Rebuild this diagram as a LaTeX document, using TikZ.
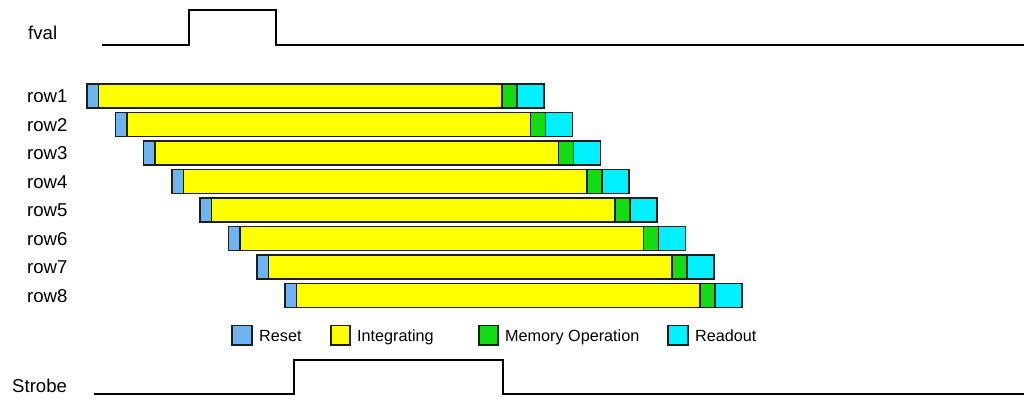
\documentclass[tikz,border=0pt]{standalone}
\usepackage{fontspec}
\setmainfont{Liberation Sans}
\definecolor{cReset}{RGB}{110,180,240}
\definecolor{cInteg}{RGB}{255,255,0}
\definecolor{cMem}{RGB}{20,220,20}
\definecolor{cRead}{RGB}{0,240,255}
\definecolor{cEdge}{RGB}{30,30,30}
\tikzset{
  sig/.style={line width=1.6pt, black},
  seg/.style={draw=cEdge, line width=1.5pt},
  lbl/.style={anchor=base west, inner sep=0pt, font=\fontsize{18.6}{20}\selectfont},
  leg/.style={anchor=base west, inner sep=0pt, font=\fontsize{16.2}{18}\selectfont},
  legbox/.style={draw=cEdge, line width=1.5pt}
}
\begin{document}
\begin{tikzpicture}[x=1pt,y=-1pt]
\useasboundingbox (0,0) rectangle (1024,407);
% fval
\node[lbl] (fvallbl) at (28,39.5) {fval};
\coordinate (f0) at (102,45);
\coordinate (f1) at (1024,45);
\draw[sig] (f0) -- (189,45) -- (189,10) -- (276,10) -- (276,45) -- (f1);
% rows
\foreach \i in {0,...,7}{
  \pgfmathsetmacro{\dx}{28.3*\i}
  \pgfmathsetmacro{\ty}{84+28.5*\i}
  \pgfmathsetmacro{\by}{\ty+24}
  \pgfmathtruncatemacro{\n}{\i+1}
  \node[lbl] (row\n) at (27,\ty+18.7) {row\n};
  \draw[seg, fill=cReset] (87+\dx,\ty) rectangle (98.5+\dx,\by);
  \draw[seg, fill=cInteg] (98.5+\dx,\ty) rectangle (502+\dx,\by);
  \draw[seg, fill=cMem] (502+\dx,\ty) rectangle (517+\dx,\by);
  \draw[seg, fill=cRead] (517+\dx,\ty) rectangle (544+\dx,\by);
}
% legend
\draw[legbox, fill=cReset] (232,325.5) rectangle (252,345);
\node[leg] (lreset) at (259,341.7) {Reset};
\draw[legbox, fill=cInteg] (331,325.5) rectangle (350,345);
\node[leg] (linteg) at (357,341.7) {Integrating};
\draw[legbox, fill=cMem] (479,325.5) rectangle (498,345);
\node[leg] (lmem) at (505,341.7) {Memory Operation};
\draw[legbox, fill=cRead] (668,325.5) rectangle (688,345);
\node[leg] (lread) at (695,341.7) {Readout};
% strobe
\node[lbl] (strobelbl) at (12,392) {Strobe};
\coordinate (s0) at (94,394);
\coordinate (s1) at (1024,394);
\draw[sig] (s0) -- (294,394) -- (294,360) -- (503,360) -- (503,394) -- (s1);
\end{tikzpicture}
\end{document}
